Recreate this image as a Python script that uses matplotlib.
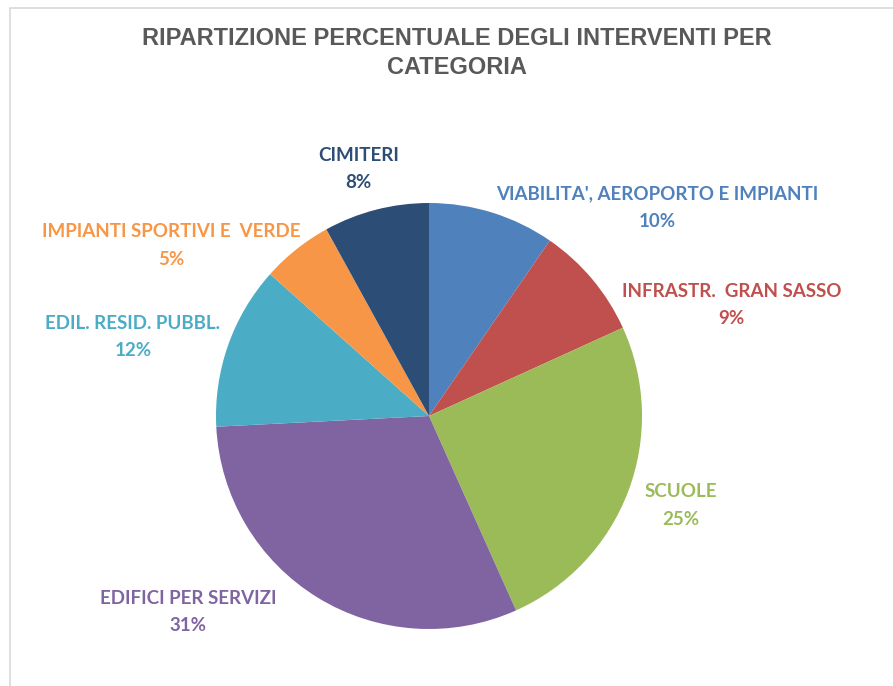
import matplotlib
matplotlib.use("Agg")
import matplotlib.pyplot as plt
from matplotlib.patches import Rectangle

# Dati: ripartizione percentuale degli interventi per categoria
categorie = ["VIABILITA', AEROPORTO E IMPIANTI", "INFRASTR.  GRAN SASSO", "SCUOLE",
             "EDIFICI PER SERVIZI", "EDIL. RESID. PUBBL.", "IMPIANTI SPORTIVI E  VERDE",
             "CIMITERI"]
percentuali = [9.6, 8.6, 25.1, 30.9, 12.4, 5.4, 8.0]
colori = ["#4F81BD", "#C0504D", "#9BBB59", "#8064A2", "#4BACC6", "#F79646", "#2C4D75"]

# posizioni delle etichette (coordinate dati, raggio della torta = 1)
pos_etichette = [(1.07, 0.98), (1.42, 0.52), (1.18, -0.42), (-1.13, -0.92),
                 (-1.39, 0.37), (-1.21, 0.80), (-0.33, 1.16)]

fig = plt.figure(figsize=(8.93, 6.86), dpi=100)
ax = fig.add_axes([0, 0, 1, 1])

wedges, _ = ax.pie(percentuali, colors=colori, startangle=90, counterclock=False,
                   radius=1, center=(0, 0), wedgeprops=dict(linewidth=0))

for nome, val, col, (x, y) in zip(categorie, percentuali, colori, pos_etichette):
    ax.text(x, y, f"{nome}\n{val:.0f}%", color=col, ha="center", va="center",
            fontsize=13.5, fontweight="bold", family="Lato", linespacing=1.75)

ax.set_xlim(-429 / 213, (893 - 429) / 213)
ax.set_ylim(-(686 - 416) / 213, 416 / 213)
ax.set_aspect("auto")
ax.axis("off")

fig.text(0.512, 0.923, "RIPARTIZIONE PERCENTUALE DEGLI INTERVENTI PER\nCATEGORIA",
         ha="center", va="center", fontsize=17, fontweight="bold",
         family="Liberation Sans", color="#595959", linespacing=1.3)

# cornice del grafico
fig.patches.append(Rectangle((10 / 893, -0.1), 1.2, (686 - 8) / 686 + 0.1,
                             transform=fig.transFigure, fill=False,
                             edgecolor="#D9D9D9", linewidth=1.2))

fig.savefig("out.png", dpi=100, facecolor="white")
